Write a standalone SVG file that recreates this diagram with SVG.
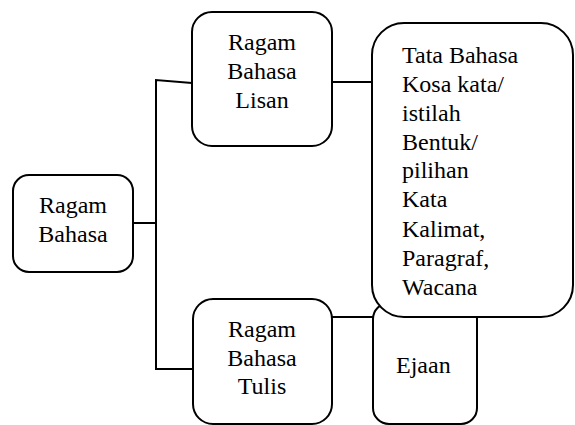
<svg xmlns="http://www.w3.org/2000/svg" width="575" height="425" viewBox="0 0 575 425">
<style>
.box{fill:#fff;stroke:#000;stroke-width:2}
.ln{fill:none;stroke:#000;stroke-width:2}
.c{text-anchor:middle}
text{font-family:'Liberation Serif','Times New Roman',Times,'DejaVu Serif',serif;font-size:24px;fill:#000}
</style>
<rect width="575" height="425" fill="#fff"/>
<g id="connectors">
<polyline class="ln" points="133,223 156,223"/>
<polyline class="ln" points="192,83 156,80 156,369 192,369"/>
<line class="ln" x1="332" y1="82" x2="372" y2="82"/>
<line class="ln" x1="332" y1="317" x2="373" y2="317"/>
</g>
<g id="ragam-bahasa">
<rect class="box" x="13" y="175" width="120" height="97" rx="16"/>
<text class="c" x="73" y="213">Ragam</text>
<text class="c" x="73" y="242">Bahasa</text>
</g>
<g id="lisan">
<rect class="box" x="192" y="12" width="140" height="134" rx="20"/>
<text class="c" x="262" y="50">Ragam</text>
<text class="c" x="262" y="79">Bahasa</text>
<text class="c" x="262" y="108">Lisan</text>
</g>
<g id="tulis">
<rect class="box" x="193" y="299" width="139" height="125" rx="20"/>
<text class="c" x="262" y="337">Ragam</text>
<text class="c" x="262" y="366">Bahasa</text>
<text class="c" x="262" y="394">Tulis</text>
</g>
<g id="ejaan">
<rect class="box" x="373" y="303" width="104" height="121" rx="16"/>
<text x="396" y="373">Ejaan</text>
</g>
<g id="unsur">
<rect class="box" x="372" y="23" width="201" height="294" rx="32"/>
<text x="402" y="63">Tata Bahasa</text>
<text x="402" y="92">Kosa kata/</text>
<text x="402" y="121">istilah</text>
<text x="402" y="150">Bentuk/</text>
<text x="402" y="178">pilihan</text>
<text x="402" y="207">Kata</text>
<text x="402" y="237">Kalimat,</text>
<text x="402" y="266">Paragraf,</text>
<text x="402" y="295">Wacana</text>
</g>
</svg>
